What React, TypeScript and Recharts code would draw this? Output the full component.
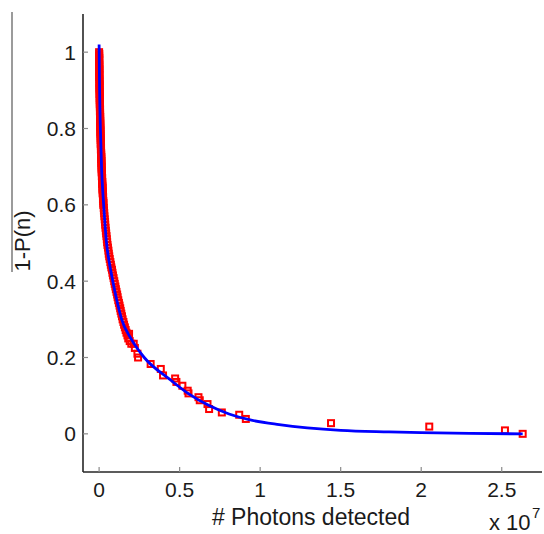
import React from "react";
import { ComposedChart, Label, Scatter, XAxis, YAxis } from "recharts";

// photons detected in units of 1e7
const fitPhotons = [0, 0.003, 0.008, 0.015, 0.025, 0.033, 0.046, 0.063, 0.085, 0.11, 0.14, 0.197, 0.28, 0.435, 0.559, 0.683, 0.807, 0.932, 1.118, 1.5, 1.8, 2.0, 2.3, 2.63];
const fitValue = [1.02, 0.9, 0.8, 0.7, 0.62, 0.57, 0.5, 0.45, 0.4, 0.35, 0.3, 0.25, 0.2, 0.144, 0.104, 0.074, 0.052, 0.037, 0.024, 0.009, 0.005, 0.003, 0.001, 0.0];

// dense band of measurements at low photon counts
const bandPhotons = [
  0.0, 0.001, 0.0, 0.001, 0.001, 0.0, 0.001, 0.002, 0.001, 0.002, 0.001, 0.002,
  0.002, 0.001, 0.002, 0.003, 0.002, 0.003, 0.003, 0.002, 0.003, 0.004, 0.003, 0.004,
  0.004, 0.004, 0.005, 0.004, 0.005, 0.005, 0.006, 0.005, 0.006, 0.006, 0.007, 0.006,
  0.007, 0.007, 0.008, 0.007, 0.008, 0.009, 0.008, 0.009, 0.009, 0.01, 0.01, 0.011,
  0.01, 0.011, 0.012, 0.011, 0.012, 0.013, 0.013, 0.014, 0.013, 0.015, 0.014, 0.015,
  0.016, 0.015, 0.017, 0.016, 0.018, 0.017, 0.019, 0.018, 0.02, 0.019, 0.021, 0.022,
  0.021, 0.023, 0.022, 0.024, 0.025, 0.024, 0.026, 0.027, 0.026,
  0.029, 0.03, 0.032, 0.033, 0.035, 0.037, 0.038, 0.04, 0.042, 0.044, 0.046, 0.048,
  0.05, 0.052, 0.055, 0.058, 0.06, 0.063, 0.066, 0.07, 0.073, 0.076, 0.08, 0.083,
  0.086, 0.09, 0.094, 0.097, 0.101, 0.104, 0.108, 0.112, 0.115, 0.119, 0.123, 0.127,
  0.131, 0.134, 0.138, 0.142, 0.146, 0.151, 0.155, 0.16, 0.165, 0.17, 0.176, 0.181,
  0.186, 0.19, 0.2, 0.215, 0.222, 0.238, 0.242,
];
const bandValue = [
  1.0, 0.995, 0.99, 0.985, 0.98, 0.975, 0.97, 0.965, 0.96, 0.955, 0.95, 0.945,
  0.94, 0.935, 0.93, 0.925, 0.92, 0.915, 0.91, 0.905, 0.9, 0.895, 0.89, 0.885,
  0.88, 0.875, 0.87, 0.865, 0.86, 0.855, 0.85, 0.845, 0.84, 0.835, 0.83, 0.825,
  0.82, 0.815, 0.81, 0.805, 0.8, 0.795, 0.79, 0.785, 0.78, 0.775, 0.77, 0.765,
  0.76, 0.755, 0.75, 0.745, 0.74, 0.735, 0.73, 0.725, 0.72, 0.715, 0.71, 0.705,
  0.7, 0.695, 0.69, 0.685, 0.68, 0.675, 0.67, 0.665, 0.66, 0.655, 0.65, 0.645,
  0.64, 0.635, 0.63, 0.625, 0.62, 0.615, 0.61, 0.605, 0.6,
  0.592, 0.585, 0.578, 0.57, 0.562, 0.555, 0.548, 0.54, 0.532, 0.525, 0.518, 0.51,
  0.502, 0.495, 0.488, 0.48, 0.472, 0.465, 0.458, 0.45, 0.443, 0.436, 0.43, 0.422,
  0.415, 0.408, 0.4, 0.393, 0.386, 0.379, 0.372, 0.365, 0.358, 0.35, 0.343, 0.336,
  0.329, 0.322, 0.315, 0.308, 0.3, 0.293, 0.286, 0.279, 0.272, 0.265, 0.258, 0.25,
  0.262, 0.243, 0.236, 0.236, 0.225, 0.21, 0.2,
];

// sparse measurements at higher photon counts
const tailPhotons = [0.32, 0.383, 0.397, 0.472, 0.48, 0.517, 0.55, 0.555, 0.617, 0.625, 0.673, 0.683, 0.762, 0.87, 0.911, 1.44, 2.05, 2.52, 2.63];
const tailValue = [0.183, 0.17, 0.153, 0.145, 0.136, 0.126, 0.113, 0.106, 0.096, 0.088, 0.078, 0.065, 0.056, 0.05, 0.039, 0.028, 0.019, 0.009, 0.0];

const xTicks = [0, 0.5, 1, 1.5, 2, 2.5];
const yTicks = [0, 0.2, 0.4, 0.6, 0.8, 1];

const fitData = fitPhotons.map((x, i) => ({ x, y: fitValue[i] }));
const measData = [
  ...bandPhotons.map((x, i) => ({ x, y: bandValue[i] })),
  ...tailPhotons.map((x, i) => ({ x, y: tailValue[i] })),
];

const FONT = "'Liberation Sans', Arial, sans-serif";
const FRAME = "#262626";
const TICK = "#8a8a8a";

const BottomTick = (props: any) => {
  const { x, y, payload } = props;
  return (
    <g>
      <line x1={x} x2={x} y1={y} y2={y - 5} stroke={TICK} strokeWidth={1.2} />
      <text x={x} y={y + 25} textAnchor="middle" fontSize={21} fontFamily={FONT} fill="#1a1a1a">
        {String(payload.value)}
      </text>
    </g>
  );
};

const TopTick = (props: any) => {
  const { x, y } = props;
  return <line x1={x} x2={x} y1={y} y2={y + 5} stroke={TICK} strokeWidth={1.2} />;
};

const LeftTick = (props: any) => {
  const { x, y, payload } = props;
  return (
    <g>
      <line x1={x} x2={x + 5} y1={y} y2={y} stroke={TICK} strokeWidth={1.2} />
      <text x={x - 7} y={y} dy="0.36em" textAnchor="end" fontSize={21} fontFamily={FONT} fill="#1a1a1a">
        {String(payload.value)}
      </text>
    </g>
  );
};

const RightTick = (props: any) => {
  const { x, y } = props;
  return <line x1={x} x2={x - 5} y1={y} y2={y} stroke={TICK} strokeWidth={1.2} />;
};

const Square = (props: any) => {
  const { cx, cy } = props;
  if (cx == null || cy == null) return null;
  return <rect x={cx - 3} y={cy - 3} width={6} height={6} fill="none" stroke="#ff0000" strokeWidth={2} />;
};

const NoDot = () => <g />;

export default function App() {
  return (
    <div style={{ position: "absolute", left: 0, top: 0, background: "#fff" }}>
      <ComposedChart width={544} height={534} margin={{ top: 14, right: 2, bottom: 0, left: 0 }}>
        <XAxis
          type="number"
          dataKey="x"
          domain={[-0.1, 2.75]}
          ticks={xTicks}
          height={62}
          tickSize={0}
          tickMargin={0}
          tickLine={false}
          tick={<BottomTick />}
          axisLine={{ stroke: FRAME, strokeWidth: 1.6 }}
          allowDataOverflow
        >
          <Label
            content={() => (
              <g fontFamily={FONT} fill="#1a1a1a">
                <text x={311} y={525} textAnchor="middle" fontSize={23}>
                  # Photons detected
                </text>
                <text x={489} y={530} fontSize={22}>
                  x 10
                </text>
                <text x={532} y={518} fontSize={15}>
                  7
                </text>
              </g>
            )}
          />
        </XAxis>
        <XAxis
          xAxisId="top"
          orientation="top"
          type="number"
          dataKey="x"
          domain={[-0.1, 2.75]}
          ticks={xTicks}
          height={0}
          tickSize={0}
          tickMargin={0}
          tickLine={false}
          tick={<TopTick />}
          axisLine={{ stroke: FRAME, strokeWidth: 1.6 }}
          allowDataOverflow
        />
        <YAxis
          type="number"
          domain={[-0.1, 1.1]}
          ticks={yTicks}
          width={83}
          tickSize={0}
          tickMargin={0}
          tickLine={false}
          tick={<LeftTick />}
          axisLine={{ stroke: FRAME, strokeWidth: 1.6 }}
          allowDataOverflow
        >
          <Label
            content={() => (
              <g>
                <line x1={12} x2={12} y1={12} y2={272} stroke="#7a7a7a" strokeWidth={1.5} />
                <text
                  transform="translate(30,241) rotate(-90)"
                  textAnchor="middle"
                  fontSize={22}
                  fontFamily={FONT}
                  fill="#1a1a1a"
                >
                  1-P(n)
                </text>
              </g>
            )}
          />
        </YAxis>
        <YAxis
          yAxisId="right"
          orientation="right"
          type="number"
          domain={[-0.1, 1.1]}
          ticks={yTicks}
          width={0}
          tickSize={0}
          tickMargin={0}
          tickLine={false}
          tick={<RightTick />}
          axisLine={{ stroke: FRAME, strokeWidth: 1.6 }}
          allowDataOverflow
        />
        <Scatter data={measData} dataKey="y" shape={<Square />} isAnimationActive={false} />
        {/* fit curve drawn as a scatter joint line so it sits above the squares */}
        <Scatter
          data={fitData}
          dataKey="y"
          shape={<NoDot />}
          line={{ stroke: "#0000ff", strokeWidth: 2.8 }}
          lineJointType="monotoneX"
          isAnimationActive={false}
        />
      </ComposedChart>
    </div>
  );
}
